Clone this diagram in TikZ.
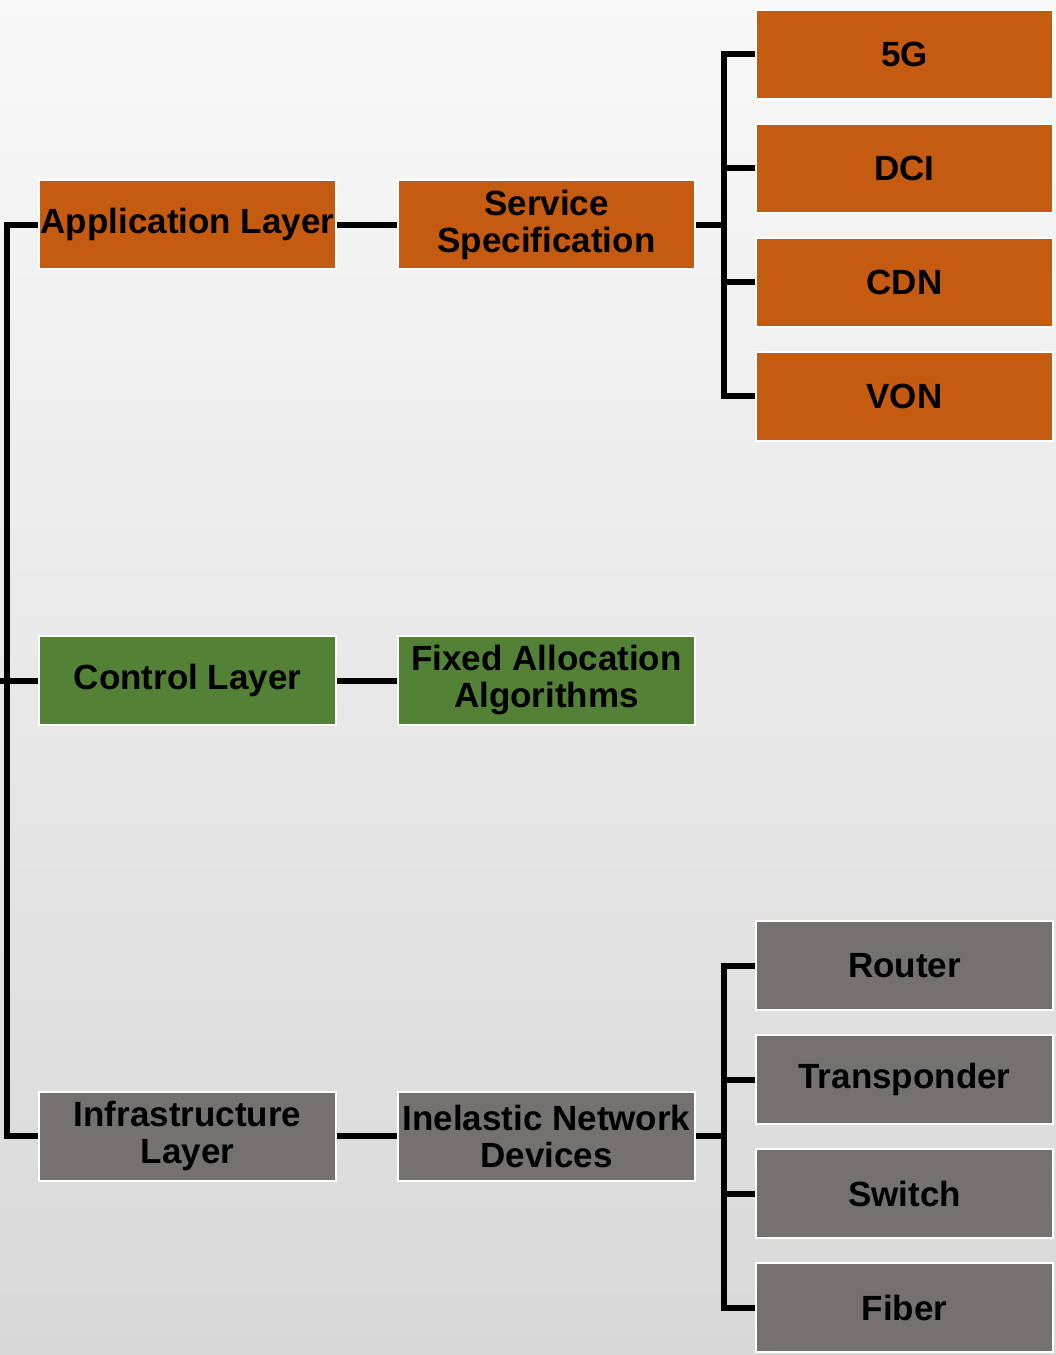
\documentclass[tikz,border=0pt]{standalone}
\usepackage{fontspec}
\setmainfont{Liberation Sans}
\definecolor{appOrange}{HTML}{C55A11}
\definecolor{ctrlGreen}{HTML}{538135}
\definecolor{infraGray}{HTML}{767171}
\definecolor{bgTop}{HTML}{F8F8F8}
\definecolor{bgBottom}{HTML}{D8D8D8}
\tikzset{
  box/.style={draw=white, line width=2pt, minimum width=297pt, minimum height=89pt,
    inner sep=0pt, align=center, text=black,
    font=\fontsize{35}{37}\selectfont\bfseries},
  appbox/.style={box, fill=appOrange},
  ctrlbox/.style={box, fill=ctrlGreen},
  infrabox/.style={box, fill=infraGray},
  conn/.style={draw=black, line width=6pt, line join=miter},
}
\begin{document}
\begin{tikzpicture}[x=1pt, y=-1pt]
  \useasboundingbox (0,0) rectangle (1056,1355);
  \shade[top color=bgTop, bottom color=bgBottom] (0,0) rectangle (1056,1355);

  % layers
  \node[appbox]   (app)   at (187.5,224.5)  {Application Layer};
  \node[ctrlbox]  (ctrl)  at (187.5,680.5)  {Control Layer};
  \node[infrabox] (infra) at (187.5,1136)   {Infrastructure\\Layer};

  % second column
  \node[appbox]   (svc)   at (546.5,224.5)  {Service\\Specification};
  \node[ctrlbox]  (algo)  at (546.5,680.5)  {Fixed Allocation\\Algorithms};
  \node[infrabox] (dev)   at (546.5,1136)   {Inelastic Network\\Devices};

  % services
  \node[appbox] (g5)  at (904.5,54)  {5G};
  \node[appbox] (dci) at (904.5,168) {DCI};
  \node[appbox] (cdn) at (904.5,282) {CDN};
  \node[appbox] (von) at (904.5,396) {VON};

  % devices
  \node[infrabox] (router) at (904.5,965.5)  {Router};
  \node[infrabox] (trans)  at (904.5,1079.5) {Transponder};
  \node[infrabox] (switch) at (904.5,1193.5) {Switch};
  \node[infrabox] (fiber)  at (904.5,1307.5) {Fiber};

  % spine joining the three layers
  \coordinate (stub) at (0,680.5);
  \draw[conn] (app.west) -- ++(-31,0) |- (infra.west);
  \draw[conn] (stub) -- (ctrl.west);

  % layer to second column
  \draw[conn] (app.east) -- (svc.west);
  \draw[conn] (ctrl.east) -- (algo.west);
  \draw[conn] (infra.east) -- (dev.west);

  % service bracket
  \draw[conn] (svc.east) -- ++(30,0);
  \draw[conn] (g5.west) -- ++(-31,0) |- (von.west);
  \draw[conn] (dci.west) -- ++(-31,0);
  \draw[conn] (cdn.west) -- ++(-31,0);

  % device bracket
  \draw[conn] (dev.east) -- ++(30,0);
  \draw[conn] (router.west) -- ++(-31,0) |- (fiber.west);
  \draw[conn] (trans.west) -- ++(-31,0);
  \draw[conn] (switch.west) -- ++(-31,0);
\end{tikzpicture}
\end{document}
